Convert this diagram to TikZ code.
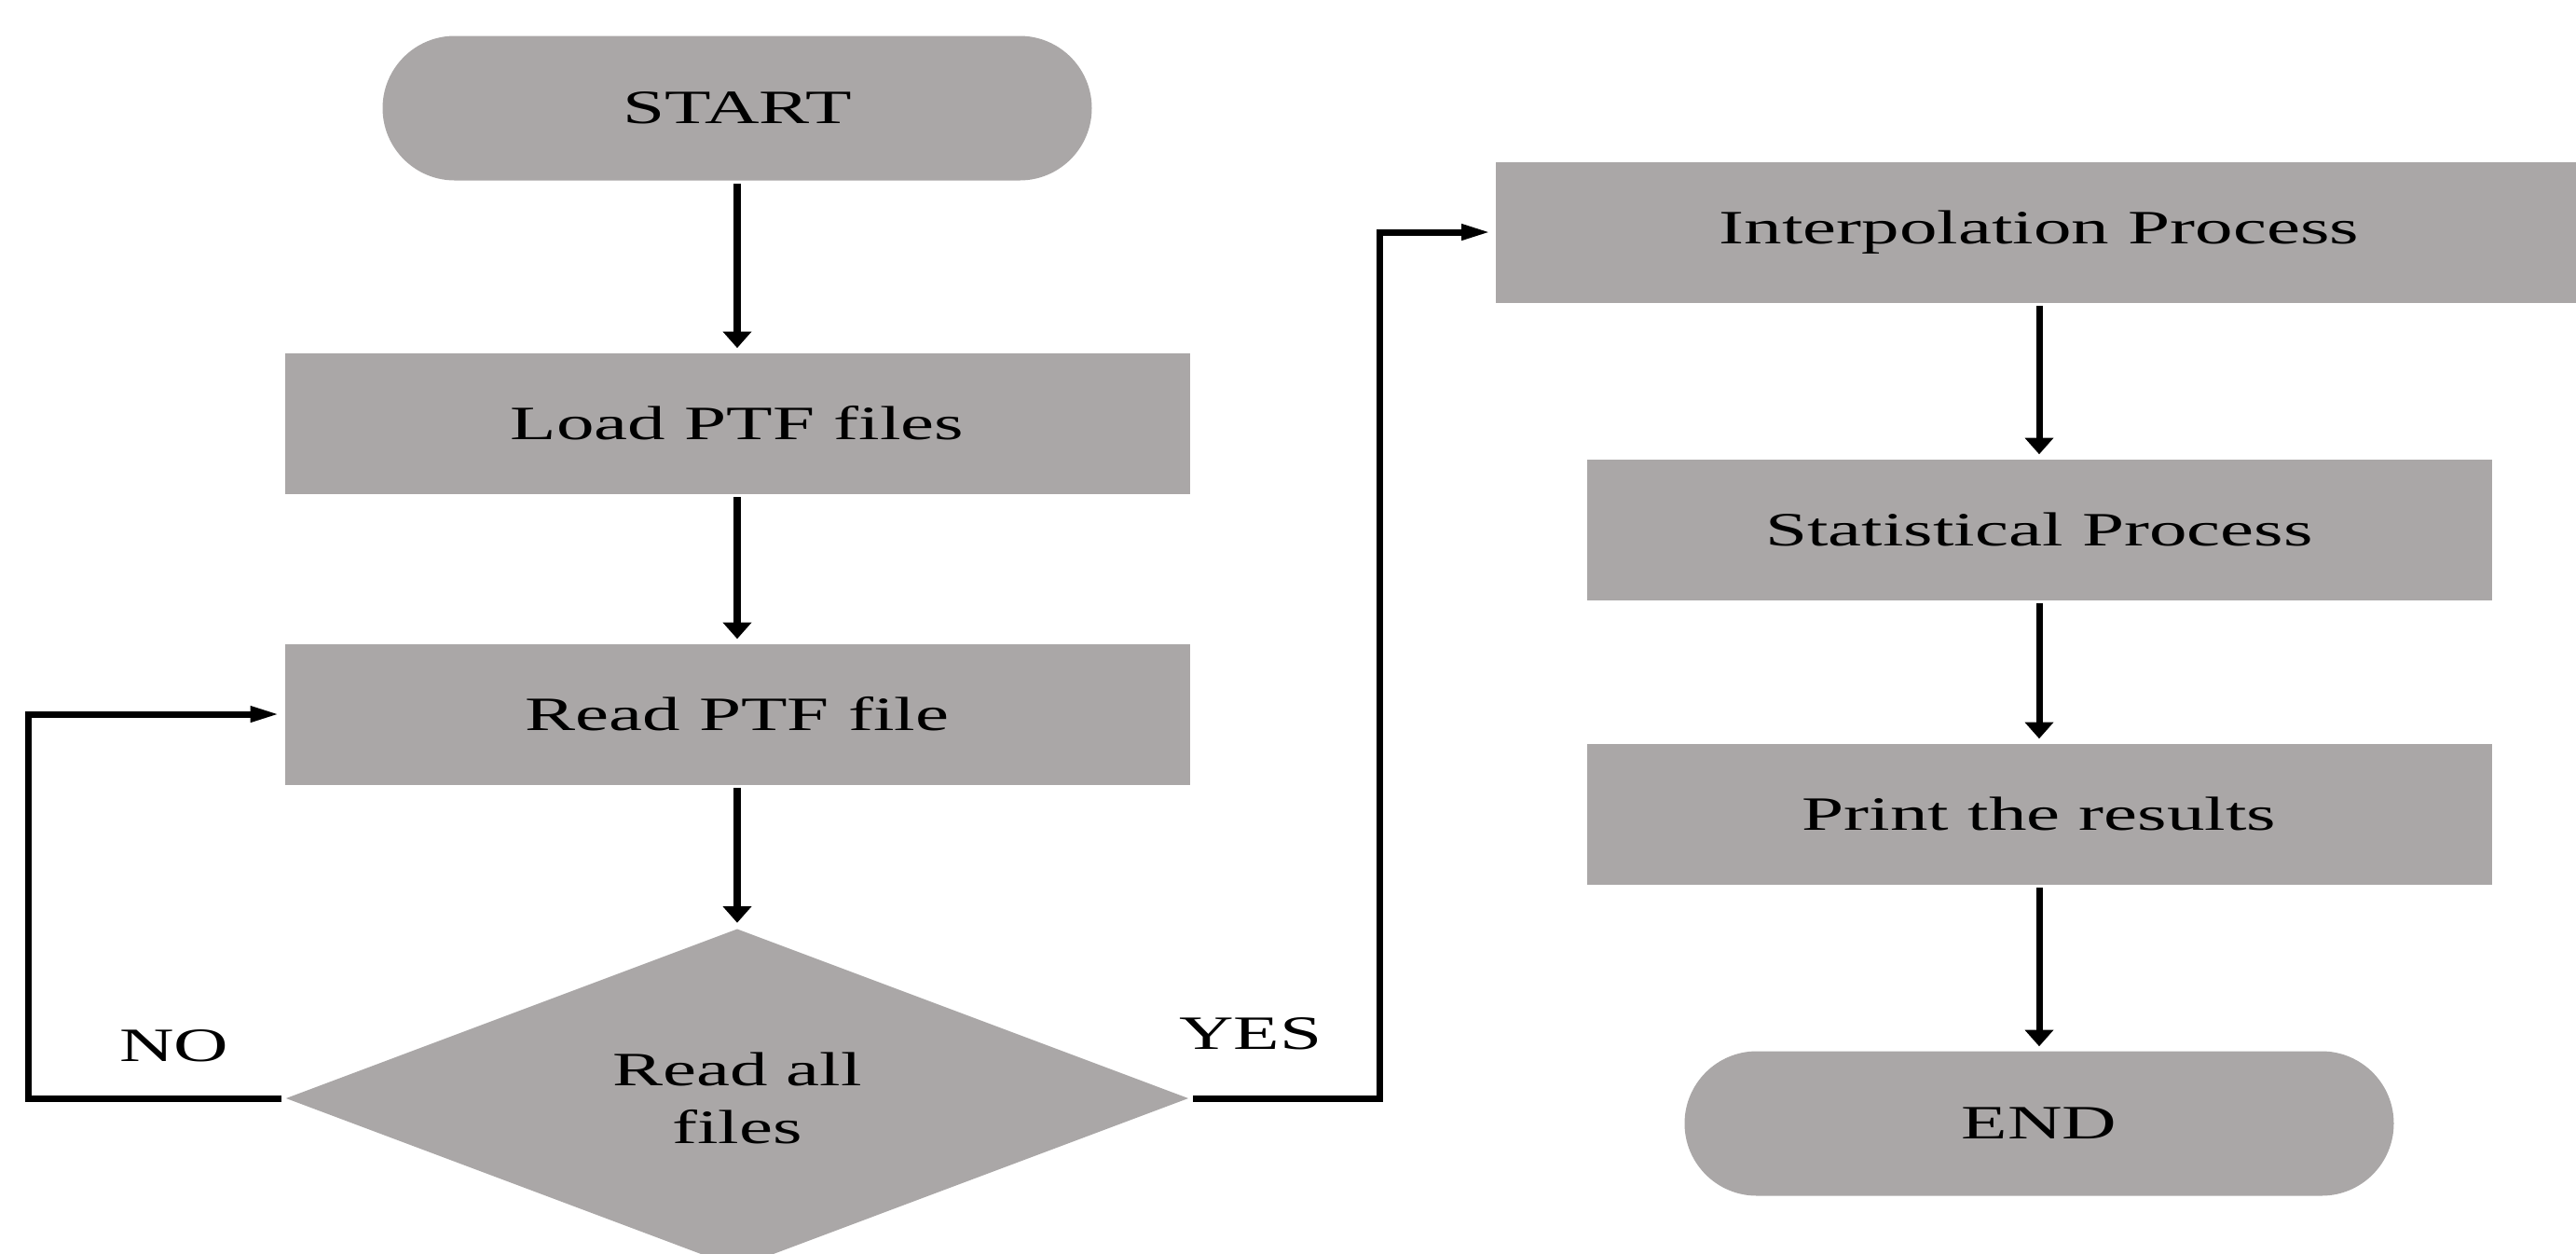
\documentclass[tikz,border=0pt]{standalone}
\usepackage{fontspec}
\setmainfont{Liberation Serif}[FakeStretch=1.58]
\usetikzlibrary{shapes.geometric,arrows.meta}

\definecolor{boxgray}{RGB}{170,167,167}
\def\leftcol{7.91}
\def\rightcol{21.88}

\begin{document}
\begin{tikzpicture}[shorten >=0.5pt,-{Triangle[length=5pt,width=8.5pt]},line width=2pt,
    font=\fontsize{14.6}{17.6}\selectfont]
    \tikzstyle{block}=[rectangle,fill=boxgray,minimum width=9.71cm,minimum height=1.51cm,inner sep=0pt]
    \tikzstyle{terminal}=[block,minimum width=7.61cm,minimum height=1.55cm,rounded corners=0.775cm]
    \tikzstyle{decision}=[diamond,fill=boxgray,aspect=2.65,minimum width=9.71cm,minimum height=3.66cm,inner sep=0pt,align=center]
    \tikzstyle{loop}=[-{Triangle[length=9pt,width=4.5pt]}]
    \tikzstyle{annot}=[inner sep=0pt]

    \useasboundingbox (0,0) rectangle (27.64,-13.44);

    % Left column: reading the files
    \node[terminal] (start) at (\leftcol,-1.16) {START};
    \node[block] (load) at (\leftcol,-4.54) {Load PTF files};
    \node[block] (read) at (\leftcol,-7.66) {Read PTF file};
    \node[decision] (check) at (\leftcol,-11.78) {Read all\\files};

    % Right column: processing and output
    \node[block,minimum width=11.66cm] (interp) at (\rightcol,-2.49) {Interpolation Process};
    \node[block] (stat) at (\rightcol,-5.68) {Statistical Process};
    \node[block] (print) at (\rightcol,-8.73) {Print the results};
    \node[terminal] (stop) at (\rightcol,-12.05) {END};

    % Straight arrows down each column
    \foreach \source/\dest in {start/load,load/read,read/check,interp/stat,stat/print,print/stop}
        \path (\source) edge (\dest);

    % Decision branches
    \draw[loop] (check.west) -- ++(-2.71,0) |- (read.west);
    \draw[loop] (check.east) -- ++(2.0,0) |- (interp.west);

    % Branch labels
    \node[annot] (no) at (1.87,-11.22) {NO};
    \node[annot] (yes) at (13.42,-11.09) {YES};
\end{tikzpicture}
\end{document}
